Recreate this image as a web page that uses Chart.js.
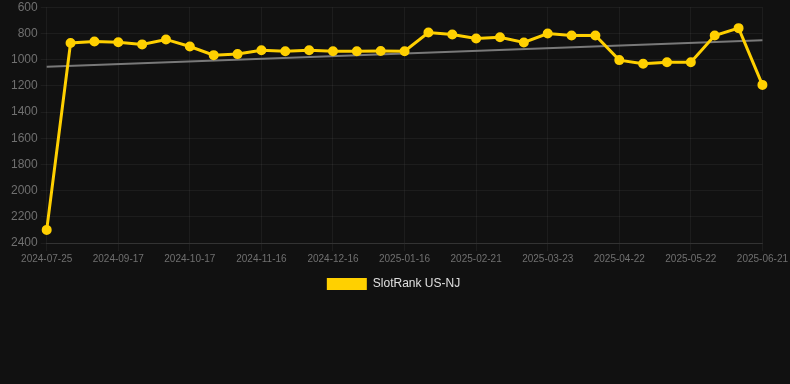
<!DOCTYPE html>
<html>
<head>
<meta charset="utf-8">
<script src="https://cdn.jsdelivr.net/npm/chart.js@4/dist/chart.umd.min.js"></script>
<style>
  html, body { margin: 0; padding: 0; background: #111111; }
  #wrap { position: relative; width: 790px; height: 300px; }
</style>
</head>
<body>
<div id="wrap"><canvas id="c"></canvas></div>
<script>
const categories = [
  '2024-07-25','2024-08-28','2024-09-07','2024-09-17','2024-09-27','2024-10-07',
  '2024-10-17','2024-10-27','2024-11-06','2024-11-16','2024-11-26','2024-12-06',
  '2024-12-16','2024-12-26','2025-01-05','2025-01-16','2025-01-28','2025-02-09',
  '2025-02-21','2025-03-03','2025-03-13','2025-03-23','2025-04-02','2025-04-12',
  '2025-04-22','2025-05-02','2025-05-12','2025-05-22','2025-06-01','2025-06-11',
  '2025-06-21'
];
const slotRank = [
  2300, 873, 862, 868, 884, 846, 900, 966, 958, 928, 936, 928,
  936, 936, 934, 936, 793, 808, 839, 830, 869, 801, 816, 816,
  1004, 1032, 1020, 1020, 816, 760, 1193
];
const trendStart = 1055;
const trendEnd = 852;
const yTicks = [600, 800, 1000, 1200, 1400, 1600, 1800, 2000, 2200, 2400];

const trend = categories.map((_, i) => i === 0 ? trendStart : (i === categories.length - 1 ? trendEnd : null));

Chart.defaults.font.family = "'Liberation Sans', Arial, sans-serif";

new Chart(document.getElementById('c'), {
  type: 'line',
  data: {
    labels: categories,
    datasets: [
      {
        label: 'SlotRank US-NJ',
        data: slotRank,
        borderColor: '#ffd000',
        backgroundColor: '#ffd000',
        borderWidth: 3,
        pointRadius: 4,
        pointBorderWidth: 2,
        pointHoverRadius: 4,
        pointBackgroundColor: '#ffd000',
        pointBorderColor: '#ffd000',
        tension: 0,
        order: 1
      },
      {
        label: 'trend',
        data: trend,
        borderColor: 'rgba(140,140,140,0.85)',
        borderWidth: 2,
        pointRadius: 0,
        spanGaps: true,
        order: 2
      }
    ]
  },
  options: {
    responsive: true,
    maintainAspectRatio: false,
    animation: false,
    layout: { padding: { left: 8, right: 11, top: 0, bottom: 0 } },
    plugins: {
      legend: {
        position: 'bottom',
        labels: {
          color: '#e0e0e0',
          font: { size: 12 },
          boxWidth: 40,
          boxHeight: 12,
          padding: 11,
          generateLabels: (chart) => Chart.defaults.plugins.legend.labels.generateLabels(chart)
            .filter(item => item.text !== 'trend')
            .map(item => Object.assign(item, { lineWidth: 0 }))
        }
      },
      tooltip: { enabled: false }
    },
    scales: {
      x: {
        grid: { color: 'rgba(255,255,255,0.05)', drawTicks: true, tickLength: 8 },
        border: { color: 'rgba(255,255,255,0.1)' },
        ticks: {
          color: '#707070',
          font: { size: 10 },
          maxRotation: 0,
          autoSkip: true,
          maxTicksLimit: 11,
          padding: 2
        }
      },
      y: {
        reverse: true,
        min: 600,
        max: 2400,
        afterBuildTicks: (axis) => { axis.ticks = yTicks.map(v => ({ value: v })); },
        grid: { color: 'rgba(255,255,255,0.05)', drawTicks: true, tickLength: 6 },
        border: { display: false },
        ticks: {
          color: '#707070',
          font: { size: 12, lineHeight: 0.7 },
          padding: 3,
          callback: (v) => String(v)
        }
      }
    }
  }
});
</script>
</body>
</html>
